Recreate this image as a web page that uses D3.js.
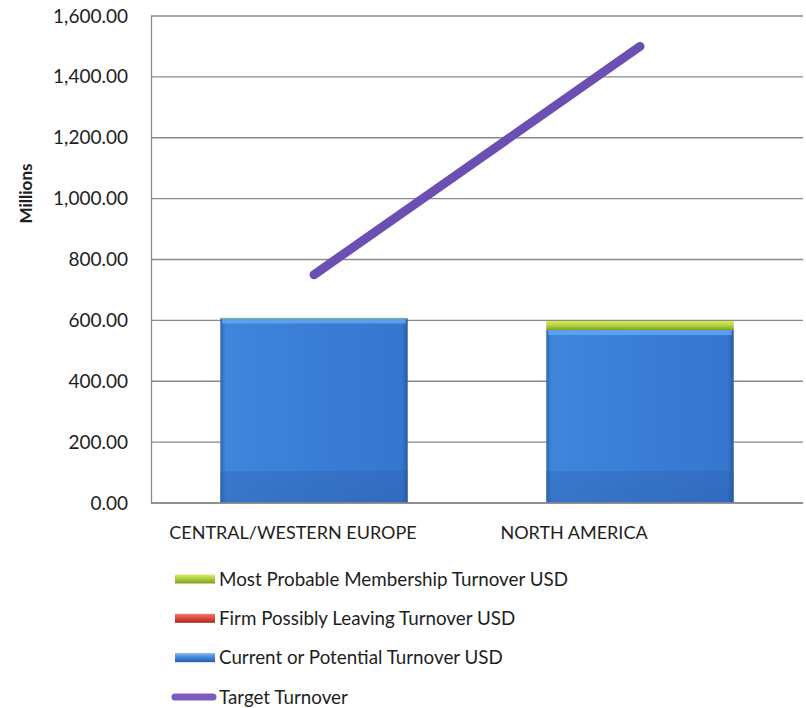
<!DOCTYPE html>
<html>
<head>
<meta charset="utf-8">
<script src="https://cdn.jsdelivr.net/npm/d3@7/dist/d3.min.js"></script>
<style>
  html, body { margin: 0; padding: 0; background: #ffffff; }
  svg { display: block; }
  text { font-family: Lato, "Open Sans", sans-serif; fill: #1e1e1e; }
</style>
</head>
<body>
<svg id="chart" width="806" height="708"></svg>
<script>
// Regions on the category axis
const categories = ["CENTRAL/WESTERN EUROPE", "NORTH AMERICA"];
// Stacked turnover components, millions USD
const currentTurnover = [606, 568];
const leavingTurnover = [0, 0];
const probableTurnover = [3, 30];
// Target turnover line, millions USD
const targetTurnover = [750, 1500];
// Value axis ticks
const yTicks = [0, 200, 400, 600, 800, 1000, 1200, 1400, 1600];

const seriesNames = [
  "Most Probable Membership Turnover USD",
  "Firm Possibly Leaving Turnover USD",
  "Current or Potential Turnover USD",
  "Target Turnover"
];

const svg = d3.select("#chart");
const plot = { left: 151, right: 803, top: 16, bottom: 503 };

const x = d3.scaleBand()
  .domain(categories)
  .range([plot.left, plot.right])
  .paddingInner(0.425)
  .paddingOuter(0.2125);

const y = d3.scaleLinear()
  .domain([0, 1600])
  .range([plot.bottom, plot.top]);

// Gradients for the bevelled bar look
const defs = svg.append("defs");
function gradient(id, stops) {
  const g = defs.append("linearGradient").attr("id", id)
    .attr("x1", 0).attr("y1", 0).attr("x2", 0).attr("y2", 1);
  stops.forEach(([o, c]) => g.append("stop").attr("offset", o).attr("stop-color", c));
}
function hGradient(id, stops) {
  const g = defs.append("linearGradient").attr("id", id)
    .attr("x1", 0).attr("y1", 0).attr("x2", 1).attr("y2", 0);
  stops.forEach(([o, c]) => g.append("stop").attr("offset", o).attr("stop-color", c));
}
hGradient("blueH", [[0, "#2f66b8"], [0.03, "#3f86dc"], [0.5, "#3a7dd6"], [0.97, "#3676cf"], [1, "#2a5aa6"]]);
gradient("greenV", [[0, "#d2ea5a"], [0.5, "#b4d33a"], [1, "#7d9f26"]]);
gradient("redV", [[0, "#f07a6a"], [0.5, "#d94a3e"], [1, "#a82a2a"]]);
gradient("blueLeg", [[0, "#7fb6f2"], [0.5, "#3f85d8"], [1, "#2a5ba8"]]);
gradient("greenLeg", [[0, "#d6ec6a"], [0.5, "#aecb3a"], [1, "#7d9f26"]]);
gradient("baseShade", [[0, "#2a5caa"], [1, "#234f98"]]);

// Gridlines
svg.append("g")
  .selectAll("line")
  .data(yTicks)
  .join("line")
  .attr("x1", plot.left)
  .attr("x2", plot.right)
  .attr("y1", d => y(d))
  .attr("y2", d => y(d))
  .attr("stroke", "#8a8a8a")
  .attr("stroke-width", 1.3);

// Value axis
const yAxis = svg.append("g")
  .attr("transform", `translate(${plot.left},0)`)
  .call(d3.axisLeft(y).tickValues(yTicks).tickSize(0).tickPadding(23)
    .tickFormat(d3.format(",.2f")));
yAxis.select(".domain").attr("stroke", "#8a8a8a").attr("stroke-width", 1.3);
yAxis.selectAll("text")
  .style("font-family", "Lato, sans-serif")
  .style("font-size", "19px")
  .attr("fill", "#1e1e1e");

svg.append("text")
  .attr("transform", `translate(32,${(plot.top + plot.bottom) / 2 - 66}) rotate(-90)`)
  .attr("text-anchor", "middle")
  .style("font-size", "17px")
  .style("font-weight", "bold")
  .attr("fill", "#111")
  .text("Millions");

// Stacked bars
const rows = categories.map((c, i) => ({
  cat: c,
  current: currentTurnover[i],
  leaving: leavingTurnover[i],
  probable: probableTurnover[i]
}));
const stack = d3.stack().keys(["current", "leaving", "probable"]);
const layers = stack(rows);
const fills = { current: "url(#blueH)", leaving: "url(#redV)", probable: "url(#greenV)" };

const barG = svg.append("g");
layers.forEach(layer => {
  barG.append("g")
    .selectAll("rect")
    .data(layer.filter(d => d[1] > d[0]))
    .join("rect")
    .attr("x", d => x(d.data.cat))
    .attr("width", x.bandwidth())
    .attr("y", d => y(d[1]))
    .attr("height", d => y(d[0]) - y(d[1]))
    .attr("fill", fills[layer.key]);
});

// Bevel highlights on the current-turnover segment
const cur = layers[0];
barG.append("g")
  .selectAll("rect")
  .data(cur)
  .join("rect")
  .attr("x", d => x(d.data.cat) + 2)
  .attr("width", x.bandwidth() - 4)
  .attr("y", d => y(d[1]))
  .attr("height", 5)
  .attr("fill", "#62a6ee")
  .attr("opacity", 0.85);
barG.append("g")
  .selectAll("rect")
  .data(cur)
  .join("rect")
  .attr("x", d => x(d.data.cat))
  .attr("width", x.bandwidth())
  .attr("y", d => y(d[0]) - 32)
  .attr("height", 32)
  .attr("fill", "url(#baseShade)")
  .attr("opacity", 0.3);

// Category axis baseline
svg.append("line")
  .attr("x1", plot.left).attr("x2", plot.right)
  .attr("y1", plot.bottom).attr("y2", plot.bottom)
  .attr("stroke", "#8a8a8a").attr("stroke-width", 1.5);

// Category labels
const labelNudge = [-21, -66];
svg.append("g")
  .selectAll("text")
  .data(categories)
  .join("text")
  .attr("x", (d, i) => x(d) + x.bandwidth() / 2 + labelNudge[i])
  .attr("y", 539)
  .attr("text-anchor", "middle")
  .style("font-size", "18px")
  .text(d => d);

// Target line
const line = d3.line()
  .x((d, i) => x(categories[i]) + x.bandwidth() / 2)
  .y(d => y(d));
svg.append("path")
  .datum(targetTurnover)
  .attr("d", line)
  .attr("fill", "none")
  .attr("stroke", "#6b4fb3")
  .attr("stroke-width", 9)
  .attr("stroke-linecap", "round");

// Legend
const legendFills = ["url(#greenLeg)", "url(#redV)", "url(#blueLeg)", null];
const legend = svg.append("g");
const legendRow = d3.scalePoint().domain(d3.range(seriesNames.length)).range([579, 697]);
seriesNames.forEach((name, i) => {
  const cy = legendRow(i);
  if (legendFills[i]) {
    legend.append("rect")
      .attr("x", 175).attr("y", cy - 4.5)
      .attr("width", 40).attr("height", 9)
      .attr("fill", legendFills[i]);
  } else {
    legend.append("line")
      .attr("x1", 175).attr("x2", 213)
      .attr("y1", cy).attr("y2", cy)
      .attr("stroke", "#7a5cc0").attr("stroke-width", 7)
      .attr("stroke-linecap", "round");
  }
  legend.append("text")
    .attr("x", 219)
    .attr("y", cy + 6.5)
    .style("font-size", "18.8px")
    .text(name);
});
</script>
</body>
</html>
